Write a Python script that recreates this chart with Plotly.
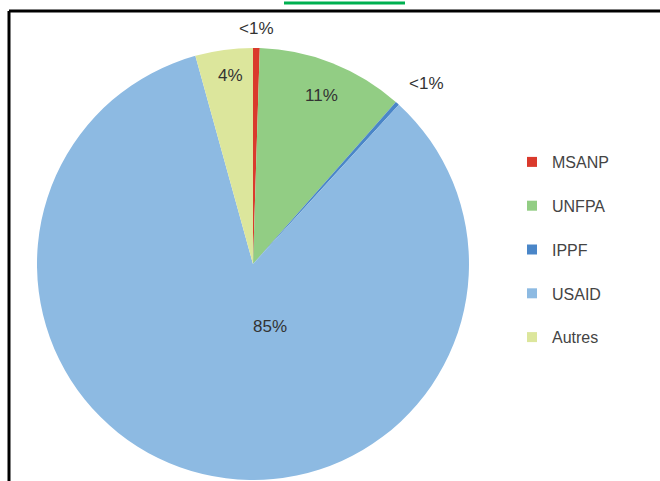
import plotly.graph_objects as go

labels = ["MSANP", "UNFPA", "IPPF", "USAID", "Autres"]
values = [0.5, 11.0, 0.3, 83.9, 4.3]
slice_text = ["<1%", "11%", "<1%", "85%", "4%"]
colors = ["#DA3A2C", "#92CD84", "#4A86C8", "#8DBAE2", "#DCE69C"]

W, H = 660, 481
cx, cy, r = 253, 264, 216

fig = go.Figure()
fig.add_trace(go.Pie(
    labels=labels, values=values, sort=False, direction="clockwise", rotation=0,
    marker=dict(colors=colors, line=dict(width=0)),
    textinfo="none", hoverinfo="label+percent", showlegend=False,
    domain=dict(x=[(cx - r) / W, (cx + r) / W], y=[1 - (cy + r) / H, 1 - (cy - r) / H]),
))

# Legend entries as separate groups to get the original spacing
for lab, col in zip(labels, colors):
    fig.add_trace(go.Scatter(
        x=[None], y=[None], mode="markers", name=lab, legendgroup=lab,
        marker=dict(symbol="square", size=10, color=col),
    ))

# Slice labels
label_pos = [(256, 29), (321, 95), (426, 83), (270, 326), (230, 75)]
for t, (px, py) in zip(slice_text, label_pos):
    fig.add_annotation(x=px / W, y=1 - py / H, xref="paper", yref="paper",
                       xanchor="center", yanchor="middle",
                       text=t, showarrow=False,
                       font=dict(family="Liberation Sans", size=17, color="#333333"))

# Frame lines
fig.add_shape(type="line", xref="paper", yref="paper", x0=9 / W, x1=1, y0=1 - 11 / H, y1=1 - 11 / H,
              line=dict(color="black", width=3))
fig.add_shape(type="line", xref="paper", yref="paper", x0=9 / W, x1=9 / W, y0=1 - 11 / H, y1=0,
              line=dict(color="black", width=3))
fig.add_shape(type="line", xref="paper", yref="paper", x0=284 / W, x1=405 / W, y0=1 - 3 / H, y1=1 - 3 / H,
              line=dict(color="#00B050", width=3))

fig.update_layout(
    width=W, height=H, margin=dict(l=0, r=0, t=0, b=0),
    paper_bgcolor="white", plot_bgcolor="white",
    xaxis=dict(visible=False), yaxis=dict(visible=False),
    legend=dict(x=512 / W, y=1 - 145 / H, xanchor="left", yanchor="top",
                tracegroupgap=20, itemwidth=30,
                font=dict(family="Liberation Sans", size=16, color="#444444"),
                bgcolor="rgba(0,0,0,0)"),
    font=dict(family="Liberation Sans"),
)

fig.write_html("out.html")
